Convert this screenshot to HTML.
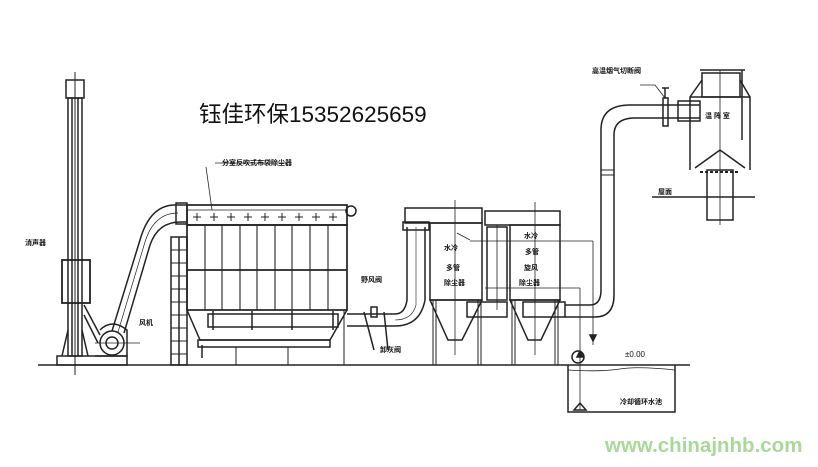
<!DOCTYPE html>
<html><head><meta charset="utf-8"><style>
html,body{margin:0;padding:0;background:#fff;}
svg{display:block}
.t{font-family:"Liberation Sans","Noto Sans CJK SC",sans-serif;}
</style></head><body>
<svg width="818" height="467" viewBox="0 0 818 467" xmlns="http://www.w3.org/2000/svg">
<g fill="none" stroke="#222" stroke-width="1.5">
<line x1="38" y1="365" x2="565" y2="365"/>
<line x1="565" y1="365" x2="690" y2="365"/>
<rect x="66" y="80" width="18" height="18"/>
<line x1="75" y1="72" x2="75" y2="375" stroke-width="1"/>
<rect x="68" y="98" width="14" height="258"/>
<line x1="72" y1="98" x2="72" y2="356"/>
<line x1="78" y1="98" x2="78" y2="356"/>
<rect x="62" y="260" width="28" height="43" stroke-width="1.8"/>
<rect x="57" y="356" width="70" height="9"/>
<line x1="62" y1="356" x2="68" y2="330"/><line x1="88" y1="356" x2="82" y2="330"/>
<circle cx="112" cy="343" r="12"/><circle cx="112" cy="343" r="6"/>
<path d="M84 305 L100 335 M84 315 L98 343 M95 356 L127 356 L127 330 Q112 318 100 330"/>
<line x1="95" y1="343" x2="140" y2="343" stroke-width="0.8"/>
<path d="M112 331 L140 240 Q150 205 175 205 L187 205"/>
<path d="M124 333 L150 245 Q158 222 180 222 L187 222"/>
<path d="M118 332 L145 242 Q154 213 178 213" stroke-width="0.7"/>
<rect x="176" y="203" width="11" height="21"/>
<rect x="187" y="205" width="160" height="20" stroke-width="1.7"/>
<line x1="187" y1="210" x2="347" y2="210" stroke-width="0.7"/>
<g stroke-width="1">
<path d="M197 213v8M193 217h8M214 213v8M210 217h8M231 213v8M227 217h8M248 213v8M244 217h8M265 213v8M261 217h8M282 213v8M278 217h8M299 213v8M295 217h8M316 213v8M312 217h8M333 213v8M329 217h8"/>
</g>
<circle cx="351" cy="211" r="5"/>
<rect x="187" y="225" width="160" height="85" stroke-width="1.7"/>
<line x1="187" y1="270" x2="347" y2="270" stroke-width="1.7"/>
<path d="M205 225v85M222 225v85M240 225v85M257 225v85M275 225v85M292 225v85M310 225v85M328 225v85" stroke-width="1.1"/>
<rect x="171" y="237" width="16" height="128"/>
<line x1="179" y1="237" x2="179" y2="365"/>
<path d="M171 250h16M171 263h16M171 276h16M171 289h16M171 302h16M171 315h16M171 328h16M171 341h16M171 354h16" stroke-width="0.9"/>
<path d="M187 310 L200 340 L330 340 L347 310"/>
<rect x="208" y="314" width="130" height="13"/>
<path d="M213 311v19M252 311v19M292 311v19M333 311v19"/>
<rect x="198" y="340" width="132" height="7"/>
<line x1="202" y1="345" x2="202" y2="358"/>
<path d="M236 347v18M288 347v18M344 310v55" stroke-width="1"/>
<path d="M347 314 L395 314 Q405 314 407 300 L407 227"/>
<path d="M347 326 L395 326 Q420 326 425 300 L425 227"/>
<path d="M416 227 L416 305 Q412 320 395 320" stroke-width="0.6"/>
<rect x="403" y="222" width="26" height="8"/>
<rect x="371" y="307" width="6" height="10"/>
<path d="M364 312 L374 350 M384 312 L388 350"/>
<rect x="405" y="208" width="77" height="15"/>
<rect x="430" y="223" width="52" height="77"/>
<line x1="455" y1="200" x2="455" y2="355" stroke-width="0.8"/>
<path d="M430 300 L482 300 L462 340 L448 340 Z"/>
<path d="M433 300v65M436 300v65M478 300v65M481 300v65" stroke-width="1"/>
<line x1="457" y1="233" x2="470" y2="240" stroke-width="0.8"/>
<rect x="485" y="211" width="75" height="14"/>
<rect x="510" y="225" width="50" height="75"/>
<line x1="535" y1="202" x2="535" y2="355" stroke-width="0.8"/>
<path d="M510 300 L560 300 L541 340 L528 340 Z"/>
<path d="M512 300v65M515 300v65M555 300v65M558 300v65" stroke-width="1"/>
<rect x="487" y="227" width="20" height="73"/>
<line x1="497" y1="225" x2="497" y2="310" stroke-width="0.8"/>
<rect x="467" y="302" width="40" height="15"/>
<rect x="523" y="302" width="42" height="15"/>
<line x1="485" y1="288" x2="580" y2="288" stroke-width="0.8"/>
<line x1="470" y1="241" x2="593" y2="241" stroke-width="0.8"/>
<line x1="593" y1="241" x2="593" y2="345" stroke-width="0.8"/>
<line x1="580" y1="288" x2="580" y2="410" stroke-width="0.8"/>
<path d="M577 357 l3 -6 l3 6z M590 335 l3 6 l3 -6z" fill="#222"/>
<circle cx="578" cy="357" r="6"/>
<path d="M568 365 L568 412 L675 412 L675 365"/>
<path d="M568 370 Q600 372 620 369 T675 370" stroke-width="0.8"/>
<path d="M574 410 l6 -7 l6 7z"/>
<path d="M565 305 L590 305 Q601 305 601 290 L601 130 Q601 105 630 105 L700 105"/>
<path d="M565 317 L595 317 Q614 317 614 295 L614 135 Q614 118 635 118 L700 118"/>
<path d="M601 170 h13 M601 175 h13" stroke-width="1"/>
<rect x="663" y="98" width="5" height="28"/>
<line x1="665" y1="88" x2="665" y2="98"/>
<path d="M640 85 L655 85 L665 98" stroke-width="0.8"/>
<line x1="662" y1="88" x2="669" y2="88"/>
<rect x="678" y="101" width="22" height="20"/>
<rect x="702" y="73" width="38" height="24"/>
<path d="M702 80 L690 97 L690 170 M740 80 L750 97 L750 170"/>
<line x1="690" y1="97" x2="750" y2="97"/>
<path d="M720 150 L695 168 M720 150 L745 168"/>
<rect x="707" y="170" width="26" height="50"/>
<line x1="720" y1="70" x2="720" y2="225" stroke-width="0.8"/>
<path d="M700 172 h40" stroke-width="2" stroke-dasharray="3 2"/>
<line x1="652" y1="197" x2="755" y2="197"/>
<path d="M742 70 L742 140 M700 70 h45"/>
</g>
<g class="t" fill="#111" font-size="7" font-weight="bold">
<text x="222" y="165">分室反吹式布袋除尘器</text>
<text x="25" y="245">消声器</text>
<text x="139" y="325">风机</text>
<text x="361" y="282">野风阀</text>
<text x="380" y="352">卸灰阀</text>
<text x="444" y="250">水冷</text>
<text x="446" y="270">多管</text>
<text x="444" y="285">除尘器</text>
<text x="524" y="238">水冷</text>
<text x="525" y="254">多管</text>
<text x="524" y="270">旋风</text>
<text x="519" y="285">除尘器</text>
<text x="592" y="73">高温烟气切断阀</text>
<text x="705" y="118">温 阵 室</text>
<text x="658" y="194">屋面</text>
<text x="620" y="404">冷却循环水池</text>
<text x="625" y="357" font-weight="normal" font-size="8">±0.00</text>
</g>
<path d="M206 167 L212 210 M215 163 L287 163" stroke="#222" stroke-width="0.8" fill="none"/>
<text class="t" x="199" y="122" font-size="22.5" fill="#111">钰佳环保15352625659</text>
<text class="t" x="605" y="452" font-size="20.5" font-weight="bold" fill="#a9d89a">www.chinajnhb.com</text>
</svg>
</body></html>
